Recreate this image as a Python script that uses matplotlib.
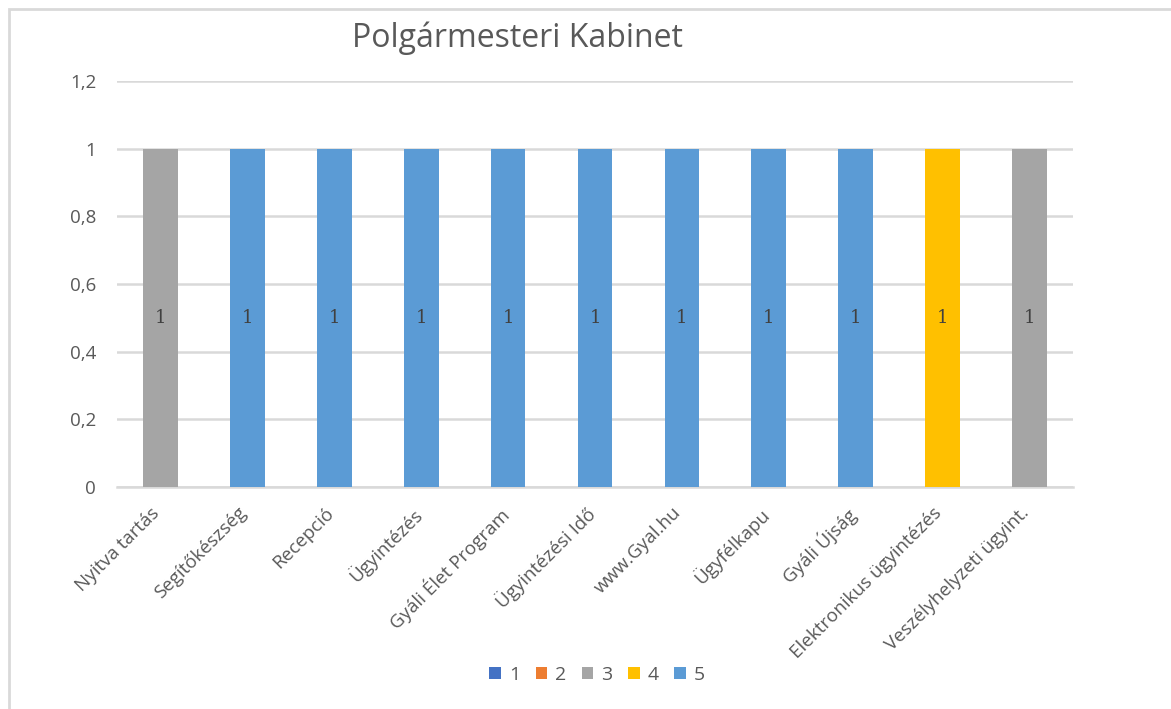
import numpy as np
import matplotlib
matplotlib.use('Agg')
import matplotlib.pyplot as plt
from matplotlib.patches import Rectangle
from matplotlib.ticker import FuncFormatter

categories = ['Nyitva tartás', 'Segítőkészség', 'Recepció', 'Ügyintézés',
              'Gyáli Élet Program', 'Ügyintézési Idő', 'www.Gyal.hu',
              'Ügyfélkapu', 'Gyáli Újság', 'Elektronikus ügyintézés',
              'Veszélyhelyzeti ügyint.']
series_names = ['1', '2', '3', '4', '5']
s1 = [0, 0, 0, 0, 0, 0, 0, 0, 0, 0, 0]
s2 = [0, 0, 0, 0, 0, 0, 0, 0, 0, 0, 0]
s3 = [1, 0, 0, 0, 0, 0, 0, 0, 0, 0, 1]
s4 = [0, 0, 0, 0, 0, 0, 0, 0, 0, 1, 0]
s5 = [0, 1, 1, 1, 1, 1, 1, 1, 1, 0, 0]
colors = ['#4472C4', '#ED7D31', '#A5A5A5', '#FFC000', '#5B9BD5']

plt.rcParams['font.family'] = ['Open Sans', 'DejaVu Sans']

W, H = 1171, 709
fig = plt.figure(figsize=(W / 100, H / 100), dpi=100)
fig.patches.append(Rectangle((8.5 / W, -0.1), 1.2, 1.1 - 8.5 / H,
                             transform=fig.transFigure, fill=False,
                             edgecolor='#D9D9D9', linewidth=2))

ax = fig.add_axes([117 / W, 1 - 487 / H, (1073 - 117) / W, (487 - 81) / H])
x = np.arange(len(categories))
bottom = np.zeros(len(categories))
for name, vals, c in zip(series_names, [s1, s2, s3, s4, s5], colors):
    vals = np.array(vals, dtype=float)
    bars = ax.bar(x, vals, 0.4, bottom=bottom, color=c, label=name, zorder=3)
    for b, v, bt in zip(bars, vals, bottom):
        if v > 0:
            ax.text(b.get_x() + b.get_width() / 2, bt + v / 2, '1',
                    ha='center', va='center', fontsize=13,
                    family='DejaVu Serif', color='#404040', zorder=4)
    bottom += vals

ax.set_xlim(-0.5, len(categories) - 0.5)
ax.set_ylim(0, 1.2)
ax.set_yticks(np.arange(0, 1.21, 0.2))
ax.yaxis.set_major_formatter(FuncFormatter(
    lambda v, p: ('%g' % round(v, 1)).replace('.', ',')))
ax.grid(axis='y', color='#D9D9D9', linewidth=1.8, zorder=0)
for s in ['top', 'right', 'left']:
    ax.spines[s].set_visible(False)
ax.spines['bottom'].set_color('#D9D9D9')
ax.spines['bottom'].set_linewidth(1.8)
ax.tick_params(axis='both', length=0, labelsize=13.5, colors='#595959')
ax.tick_params(axis='y', pad=15)
ax.set_xticks(x)
ax.set_xticklabels(categories, rotation=45, ha='right',
                   rotation_mode='anchor')
for lbl in ax.get_xticklabels():
    lbl.set_transform(lbl.get_transform() +
                      matplotlib.transforms.ScaledTranslation(-0.1, -0.12, fig.dpi_scale_trans))

fig.text(517 / W, 1 - 38 / H, 'Polgármesteri Kabinet', ha='center',
         va='center', fontsize=23, color='#595959')

fig.legend(loc='center', bbox_to_anchor=(597 / W, 1 - 675 / H), ncol=5,
           frameon=False, fontsize=14, handlelength=0.6, handleheight=0.6,
           handletextpad=0.4, columnspacing=0.8, labelcolor='#595959')

fig.savefig('out.png', dpi=100)
